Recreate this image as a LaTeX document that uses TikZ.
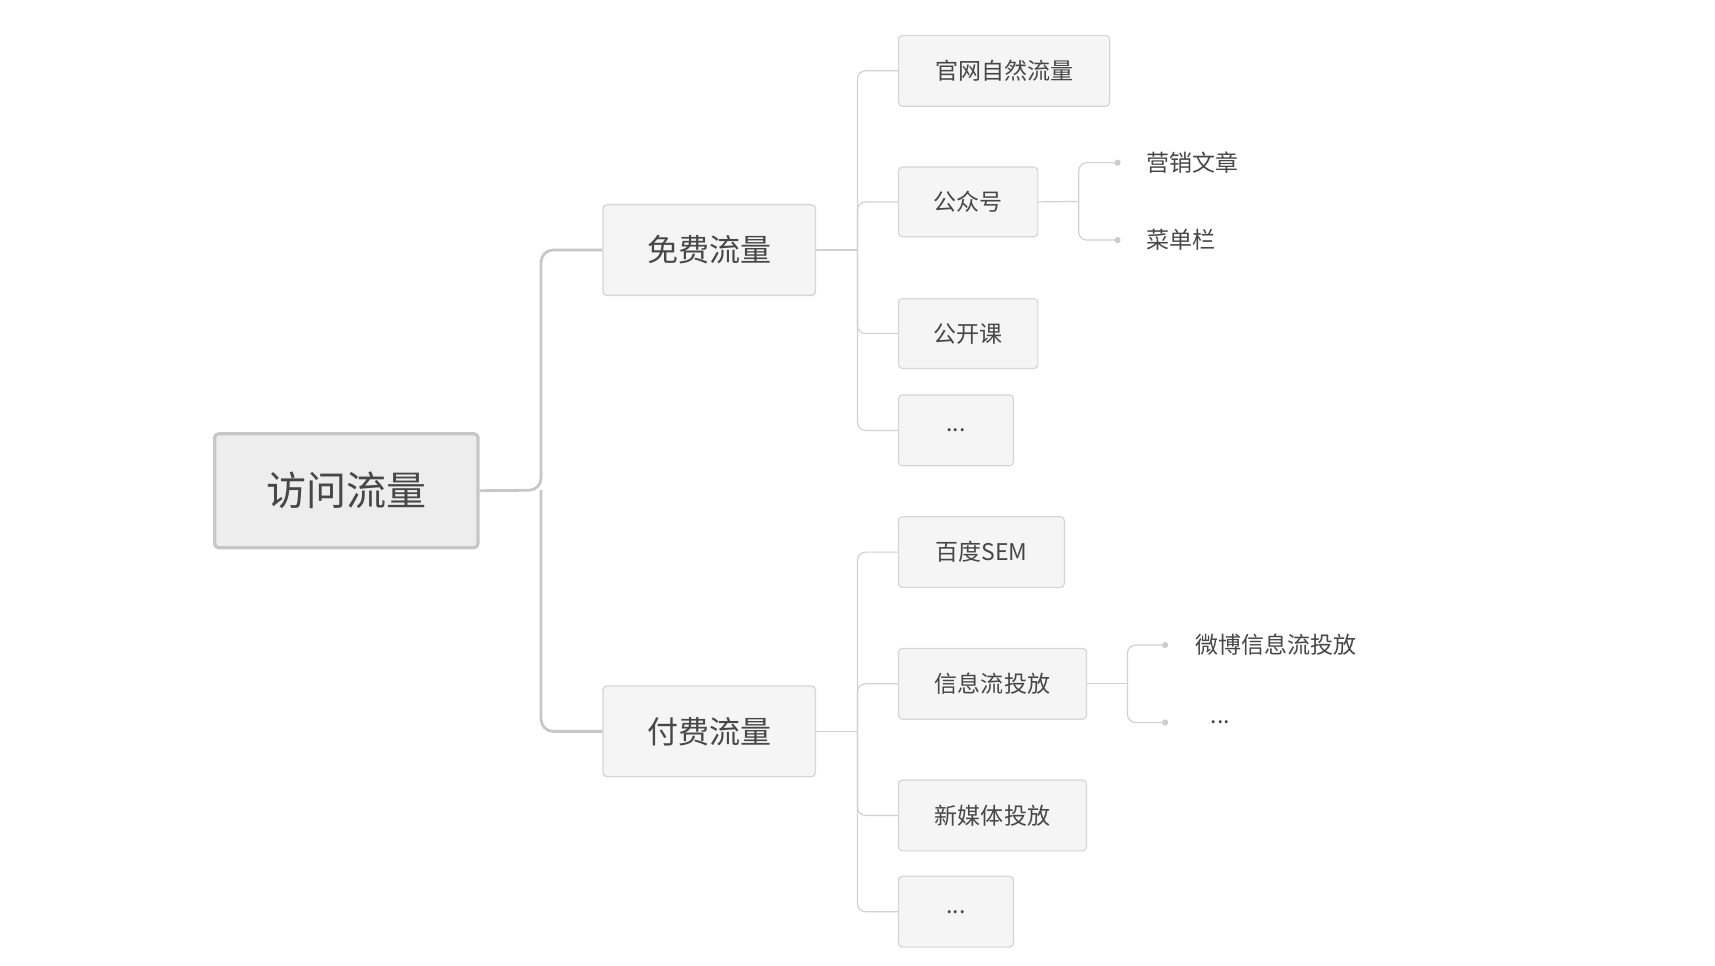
\documentclass[tikz,border=0pt]{standalone}
\usepackage{fontspec}
\newfontfamily\cjk{Noto Sans CJK SC}
\begin{document}
\begin{tikzpicture}[x=0.553pt,y=-0.553pt,
  txt/.style={text=black!72,font=\cjk},
  rootbox/.style={txt,draw=black!22,line width=1.6pt,fill=black!7,rounded corners=2pt,font=\cjk\fontsize{20}{24}\selectfont},
  l1box/.style={txt,draw=black!16,line width=0.7pt,fill=black!4,rounded corners=2pt,font=\cjk\fontsize{15.5}{18}\selectfont},
  l2box/.style={txt,draw=black!16,line width=0.6pt,fill=black!4,rounded corners=2pt,font=\cjk\fontsize{11.5}{14}\selectfont},
  leaf/.style={txt,anchor=west,font=\cjk\fontsize{11.5}{14}\selectfont},
  thickln/.style={draw=black!22,line width=1.4pt,rounded corners=6pt},
  thinln/.style={draw=black!18,line width=0.6pt,rounded corners=4pt},
  dotst/.style={circle,fill=black!20,inner sep=1.1pt}]
\useasboundingbox (0,0) rectangle (1550,872.5);
\newcommand\bx[6]{\node[#1,minimum width={(#4-#3)*0.553pt},minimum height={(#6-#5)*0.553pt},inner sep=0] (#2) at ({(#3+#4)/2},{(#5+#6)/2})}
\bx{rootbox}{root}{194}{432}{392}{495} {访问流量};
\bx{l1box}{free}{545}{737}{185}{267} {免费流量};
\bx{l1box}{paid}{545}{737}{620}{702} {付费流量};
\bx{l2box}{gw}{812}{1003}{32}{96} {官网自然流量};
\bx{l2box}{gzh}{812}{938}{151}{214} {公众号};
\bx{l2box}{gkk}{812}{938}{270}{333} {公开课};
\bx{l2box}{fd}{812}{916}{357}{421} {...};
\bx{l2box}{sem}{812}{962}{467}{531} {百度SEM};
\bx{l2box}{xxl}{812}{982}{586}{650} {信息流投放};
\bx{l2box}{xmt}{812}{982}{705}{769} {新媒体投放};
\bx{l2box}{pd}{812}{916}{792}{856} {...};
\node[dotst] (d1) at (1010,147) {};
\node[dotst] (d2) at (1010,217) {};
\node[dotst] (d3) at (1053,583) {};
\node[dotst] (d4) at (1053,653) {};
\node[leaf] (yx) at (1030,147) {营销文章};
\node[leaf] (cd) at (1030,217) {菜单栏};
\node[leaf] (wb) at (1074,583) {微博信息流投放};
\node[leaf] (wd) at (1088,653) {...};
\coordinate (j0) at (489,443);
\draw[thickln] (root.east) -- (j0) |- (free.west);
\draw[thickln] (j0) |- (paid.west);
\coordinate (j1) at (775,226);
\draw[thinln] (free.east) -- (j1);
\foreach \n in {gw,gzh,gkk,fd} \draw[thinln] (j1) |- (\n.west);
\coordinate (j2) at (775,661);
\draw[thinln] (paid.east) -- (j2);
\foreach \n in {sem,xxl,xmt,pd} \draw[thinln] (j2) |- (\n.west);
\coordinate (j3) at (975,182);
\draw[thinln] (gzh.east) -- (j3);
\draw[thinln] (j3) |- (d1.center);
\draw[thinln] (j3) |- (d2.center);
\coordinate (j4) at (1019,618);
\draw[thinln] (xxl.east) -- (j4);
\draw[thinln] (j4) |- (d3.center);
\draw[thinln] (j4) |- (d4.center);
\end{tikzpicture}
\end{document}
